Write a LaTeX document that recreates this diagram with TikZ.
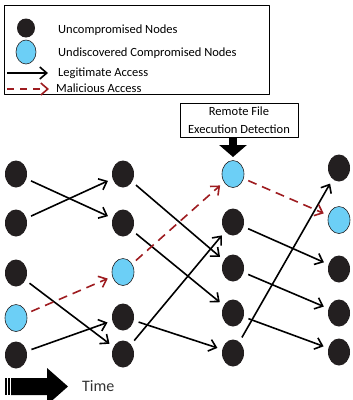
\documentclass[tikz,border=0pt]{standalone}
\usepackage{fontspec}
\setmainfont{Carlito}
\usetikzlibrary{arrows.meta,shapes.geometric}
\definecolor{hostblack}{RGB}{35,31,32}
\definecolor{hitblue}{RGB}{108,207,246}
\definecolor{attackred}{RGB}{158,28,32}

\begin{document}
\begin{tikzpicture}[x=1pt, y=-1pt, line join=round, >={Straight Barb[length=7pt,width=12pt]},
	host/.style={ellipse, fill=hostblack, minimum width=22pt, minimum height=27pt, inner sep=0pt},
	hit/.style={ellipse, draw=hostblack, line width=0.6pt, fill=hitblue, minimum width=22pt, minimum height=27pt, inner sep=0pt},
	legit/.style={->, line width=1.6pt, shorten <=5pt, shorten >=5pt},
	attack/.style={->, attackred, line width=1.6pt, dash pattern=on 9pt off 6pt, shorten <=5pt, shorten >=5pt},
	keytext/.style={font=\fontsize{12.5}{15}\selectfont, inner sep=0pt, anchor=west}]
	\useasboundingbox (0,0) rectangle (353,400);
	
	% 1. Legend
	\draw[line width=0.9pt] (4,5) rectangle (269,94);
	\node[host, minimum width=18pt, minimum height=19pt] (keyHost) at (26,28) {};
	\node[hit, minimum width=20pt, minimum height=24pt] (keyHit) at (26,52) {};
	\node[keytext] (keyHostText) at (58,30) {Uncompromised Nodes};
	\node[keytext] (keyHitText) at (58,53) {Undiscovered Compromised Nodes};
	\coordinate (keyLegitA) at (7,73);
	\coordinate (keyLegitB) at (48,73);
	\coordinate (keyAttackA) at (7,89);
	\coordinate (keyAttackB) at (49,89);
	\draw[legit, shorten <=0pt, shorten >=0pt] (keyLegitA) -- (keyLegitB);
	\draw[attack, dash pattern=on 7pt off 6pt, shorten <=0pt, shorten >=0pt] (keyAttackA) -- (keyAttackB);
	\node[keytext] (keyLegitText) at (58,73) {Legitimate Access};
	\node[keytext] (keyAttackText) at (56,88) {Malicious Access};
	
	% 2. Hosts at four points in time
	\node[host] (A1) at (16,174) {};
	\node[host] (A2) at (16,223) {};
	\node[host] (A3) at (16,273) {};
	\node[hit]  (A4) at (16,318) {};
	\node[host] (A5) at (16,355) {};
	
	\node[host] (B1) at (123,174) {};
	\node[host] (B2) at (123,223) {};
	\node[hit]  (B3) at (123,272) {};
	\node[host] (B4) at (123,317) {};
	\node[host] (B5) at (123,354) {};
	
	\node[hit]  (C1) at (233,174) {};
	\node[host] (C2) at (233,222) {};
	\node[host] (C3) at (233,268) {};
	\node[host] (C4) at (233,313) {};
	\node[host] (C5) at (233,353) {};
	
	\node[host] (D1) at (339,168) {};
	\node[hit]  (D2) at (339,220) {};
	\node[host] (D3) at (339,269) {};
	\node[host] (D4) at (339,313) {};
	\node[host] (D5) at (339,352) {};
	
	% 3. Accesses
	\draw[legit] (A1) -- (B2);
	\draw[legit] (A2) -- (B1);
	\draw[legit] (A3) -- (B5);
	\draw[legit] (A5) -- (B4);
	\draw[attack] (A4) -- (B3);
	
	\draw[legit] (B1) -- (C3);
	\draw[legit] (B2) -- (C4);
	\draw[legit] (B4) -- (C5);
	\draw[legit] (B5) -- (C2);
	\draw[attack] (B3) -- (C1);
	
	\draw[legit] (C2) -- (D3);
	\draw[legit] (C3) -- (D4);
	\draw[legit] (C4) -- (D5);
	\draw[legit] (C5) -- (D1);
	\draw[attack] (C1) -- (D2);
	
	% 4. Detection box and its arrow
	\node[draw, line width=0.9pt, minimum width=118pt, minimum height=34pt, align=center,
		font=\fontsize{12.5}{18}\selectfont] (detect) at (239,120) {Remote File\\Execution Detection};
	\coordinate (detectTip) at (233,157);
	\draw[line width=8pt, -{Triangle[length=12pt,width=27pt]}] (detect.south -| detectTip) -- (detectTip);
	
	% 5. Time arrow
	\fill (5,378) rectangle (6.5,395);
	\fill (8,378) rectangle (9.5,395);
	\fill (11,378) -- (47,378) -- (47,368) -- (68,386.5) -- (47,405) -- (47,395) -- (11,395) -- cycle;
	\node[keytext, font=\fontsize{16}{19}\selectfont, text=black!80] (timeText) at (82,386) {Time};
\end{tikzpicture}
\end{document}
